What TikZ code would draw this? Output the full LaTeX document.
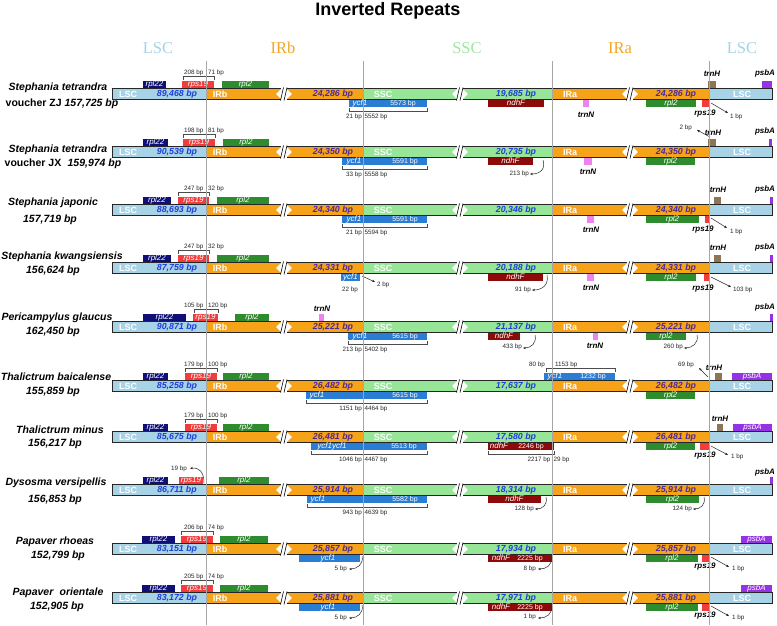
\documentclass[tikz,border=0pt]{standalone}
\usepackage{fontspec}
\setmainfont{Liberation Sans}
\newfontfamily\hdrfont{Liberation Serif}
\usetikzlibrary{arrows.meta}
\definecolor{lscc}{RGB}{168,211,230}
\definecolor{irc}{RGB}{247,163,26}
\definecolor{sscc}{RGB}{151,229,151}
\definecolor{rplc}{RGB}{15,15,120}
\definecolor{rpsc}{RGB}{242,59,59}
\definecolor{rpliic}{RGB}{46,139,46}
\definecolor{ycfc}{RGB}{43,124,211}
\definecolor{ndhc}{RGB}{140,10,10}
\definecolor{trnnc}{RGB}{238,130,238}
\definecolor{trnhc}{RGB}{140,117,88}
\definecolor{psbc}{RGB}{150,50,230}
\definecolor{numblue}{RGB}{31,63,217}
\definecolor{numpurp}{RGB}{75,42,155}
\definecolor{hdrlsc}{RGB}{168,211,230}
\definecolor{hdrir}{RGB}{245,166,35}
\definecolor{hdrssc}{RGB}{160,230,160}
\tikzset{
 seglab/.style={text=white, font=\bfseries\fontsize{9}{10}\selectfont, inner sep=0pt, text height=6.5pt, text depth=0pt},
 numb/.style={font=\bfseries\itshape\fontsize{8.8}{10}\selectfont, inner sep=0pt, text height=6.3pt, text depth=1.8pt},
 gname/.style={text=white, font=\itshape\fontsize{8}{9}\selectfont, inner sep=0pt, text height=5.8pt, text depth=1.6pt},
 gbp/.style={text=white, font=\fontsize{7}{8}\selectfont, inner sep=0pt, text height=5pt, text depth=1.4pt},
 glab/.style={font=\bfseries\itshape\fontsize{8}{9}\selectfont, inner sep=0pt, text height=5.8pt, text depth=1.6pt},
 bp/.style={font=\fontsize{6.3}{7}\selectfont, text=black!85, inner sep=0pt},
 brk/.style={draw=black!70, line width=0.5pt},
 arr/.style={draw=black!85, line width=0.5pt, -{Stealth[length=3pt,width=2.4pt]}},
 spec/.style={font=\bfseries\itshape\fontsize{10.5}{12}\selectfont, inner sep=0pt},
 hdr/.style={font=\hdrfont\fontsize{16.5}{18}\selectfont, inner sep=0pt},
 barline/.style={draw=black!85, line width=0.7pt},
 vline/.style={draw=black!35, line width=1pt},
}
% chromosome bar: four region sizes
\newcommand\chrbar[4]{%
 \fill[lscc] (112,-5.5) rectangle (206,5.5);
 \fill[irc] (206,-5.5) rectangle (281,5.5);
 \fill[irc] (287,-5.5) rectangle (363,5.5);
 \fill[sscc] (363,-5.5) rectangle (457,5.5);
 \fill[sscc] (463,-5.5) rectangle (552,5.5);
 \fill[irc] (552,-5.5) rectangle (627,5.5);
 \fill[irc] (633,-5.5) rectangle (709,5.5);
 \fill[lscc] (709,-5.5) rectangle (772,5.5);
 \draw[barline] (281,-5.5) -- (112,-5.5) -- (112,5.5) -- (281,5.5);
 \draw[barline] (287,-5.5) -- (457,-5.5) (287,5.5) -- (457,5.5);
 \draw[barline] (463,-5.5) -- (627,-5.5) (463,5.5) -- (627,5.5);
 \draw[barline] (633,-5.5) -- (772,-5.5) -- (772,5.5) -- (633,5.5);
 \foreach \a/\b in {281/287,457/463,627/633}{
   \fill[white] (\a+0.4,-5.1) -- (\a-5,0) -- (\a+0.4,5.1) -- cycle;
   \fill[white] (\b-0.4,-5.1) -- (\b+5,0) -- (\b-0.4,5.1) -- cycle;
   \draw[black, line width=0.6pt] (\a-0.5,6.5) -- (\a+2.5,-6.5) (\a+3,6.5) -- (\a+6,-6.5);
 }
 \node[seglab] at (128,0) {LSC};
 \node[seglab] at (220,0) {IRb};
 \node[seglab] at (383,0) {SSC};
 \node[seglab] at (570,0) {IRa};
 \node[seglab] at (742,0) {LSC};
 \node[numb, text=numblue] at (177,0) {#1};
 \node[numb, text=numpurp] at (333,0) {#2};
 \node[numb, text=numblue] at (516,0) {#3};
 \node[numb, text=numpurp] at (676,0) {#4};
}
% top / bottom gene boxes
\newcommand\tbx[3]{\fill[#3] (#1,-13.5) rectangle (#2,-6);}
\newcommand\bbx[3]{\fill[#3] (#1,5.5) rectangle (#2,13);}
\newcommand\tb[4]{\tbx{#1}{#2}{#3}\node[gname] at ({(#1+#2)/2},-9.75) {#4};}
\newcommand\bb[4]{\bbx{#1}{#2}{#3}\node[gname] at ({(#1+#2)/2},9.25) {#4};}
% brackets: x1 x2 xmid xeast xwest leftlabel rightlabel
\newcommand\tbr[7]{%
 \draw[brk] (#1,-14) -- (#1,-18) -- (#2,-18) -- (#2,-14);
 \draw[brk] (#3,-16) -- (#3,-20);
 \node[bp, anchor=base east] at (#4,-19.3) {#6};
 \node[bp, anchor=base west] at (#5,-19.3) {#7};
}
\newcommand\bbr[7]{%
 \draw[brk] (#1,13.5) -- (#1,17.5) -- (#2,17.5) -- (#2,13.5);
 \draw[brk] (#3,15.5) -- (#3,19.5);
 \node[bp, anchor=north east] at (#4,19.5) {#6};
 \node[bp, anchor=north west] at (#5,19.5) {#7};
}
\begin{document}
\begin{tikzpicture}[x=1pt,y=-1pt]
\useasboundingbox (0,0) rectangle (777,625);
\fill[white] (0,0) rectangle (777,625);
\node[font=\bfseries\fontsize{18}{20}\selectfont, anchor=base] (title) at (388,15) {Inverted Repeats};
\node[hdr, text=hdrlsc] (h1) at (158,48) {LSC};
\node[hdr, text=hdrir] (h2) at (283,48) {IRb};
\node[hdr, text=hdrssc] (h3) at (467,48) {SSC};
\node[hdr, text=hdrir] (h4) at (620,48) {IRa};
\node[hdr, text=hdrlsc] (h5) at (742,48) {LSC};

% species labels
\node[spec] (s1a) at (58,88) {Stephania tetrandra};
\node[spec] (s1b) at (62,104) {{\upshape voucher ZJ} 157,725 bp};
\node[spec] (s2a) at (58,150) {Stephania tetrandra};
\node[spec] (s2b) at (63,164) {{\upshape voucher JX}\hspace{0.6em}159,974 bp};
\node[spec] (s3a) at (53,203) {Stephania japonic};
\node[spec] (s3b) at (50,220) {157,719 bp};
\node[spec] (s4a) at (62,257) {Stephania kwangsiensis};
\node[spec] (s4b) at (53,271) {156,624 bp};
\node[spec] (s5a) at (57,318) {Pericampylus glaucus};
\node[spec] (s5b) at (53,332) {162,450 bp};
\node[spec] (s6a) at (56,377) {Thalictrum baicalense};
\node[spec] (s6b) at (53,392) {155,859 bp};
\node[spec] (s7a) at (60,430) {Thalictrum minus};
\node[spec] (s7b) at (55,444) {156,217 bp};
\node[spec] (s8a) at (56,483) {Dysosma versipellis};
\node[spec] (s8b) at (55,500) {156,853 bp};
\node[spec] (s9a) at (55,542) {Papaver rhoeas};
\node[spec] (s9b) at (58,556) {152,799 bp};
\node[spec] (s10a) at (58,593) {Papaver\hspace{0.6em}orientale};
\node[spec] (s10b) at (57,607) {152,905 bp};

% ---------- row 1
\begin{scope}[yshift=-94pt]
 \chrbar{89,468 bp}{24,286 bp}{19,685 bp}{24,286 bp}
 \tb{143}{166}{rplc}{rpl22}
 \tb{182}{214}{rpsc}{rps19}
 \tb{222}{269}{rpliic}{rpl2}
 \tbr{183}{214}{206}{203.5}{208}{208 bp}{71 bp}
 \bbx{349}{427}{ycfc}
 \node[gname] at (360,9.25) {ycf1};
 \node[gbp] at (403,9.25) {5573 bp};
 \bbr{349}{427}{363}{362}{364.5}{21 bp}{5552 bp}
 \bb{488}{544}{ndhc}{ndhF}
 \bbx{583}{589}{trnnc}
 \node[glab] at (586,21) {trnN};
 \bb{646}{696}{rpliic}{rpl2}
 \bbx{702}{709}{rpsc}
 \node[glab] (r1rps) at (705,19) {rps19};
 \coordinate (r1a) at (711,9); \coordinate (r1b) at (728,19);
 \draw[arr] (r1a) -- (r1b);
 \node[bp, anchor=west] at (730,23) {1 bp};
 \tbx{708}{716}{trnhc}
 \node[glab] at (712,-20) {trnH};
 \tbx{762}{772}{psbc}
 \node[glab] at (765,-21) {psbA};
\end{scope}

% ---------- row 2
\begin{scope}[yshift=-152pt]
 \chrbar{90,539 bp}{24,350 bp}{20,735 bp}{24,350 bp}
 \tb{143}{168}{rplc}{rpl22}
 \tb{183}{215}{rpsc}{rps19}
 \tb{223}{269}{rpliic}{rpl2}
 \tbr{183}{215}{206}{203.5}{208}{198 bp}{81 bp}
 \bbx{342}{427}{ycfc}
 \node[gname] at (354,9.25) {ycf1};
 \node[gbp] at (405,9.25) {5591 bp};
 \bbr{342}{427}{363}{362}{364.5}{33 bp}{5558 bp}
 \bb{488}{533}{ndhc}{ndhF}
 \draw[arr] (543,8) .. controls (546,17) and (540,22) .. (530,22);
 \node[bp, anchor=east] at (529,22) {213 bp};
 \bbx{584}{592}{trnnc}
 \node[glab] at (588,20) {trnN};
 \bb{646}{695}{rpliic}{rpl2}
 \tbx{708}{716}{trnhc}
 \node[glab] at (713,-19) {trnH};
 \draw[arr] (710,-15) -- (697,-22);
 \node[bp, anchor=east] at (692,-24) {2 bp};
 \tbx{769}{772}{psbc}
 \node[glab] at (765,-21) {psbA};
\end{scope}

% ---------- row 3
\begin{scope}[yshift=-210pt]
 \chrbar{88,693 bp}{24,340 bp}{20,346 bp}{24,340 bp}
 \tb{143}{171}{rplc}{rpl22}
 \tb{178}{209}{rpsc}{rps19}
 \tb{217}{269}{rpliic}{rpl2}
 \tbr{178}{209}{206}{203.5}{208}{247 bp}{32 bp}
 \bbx{342}{427}{ycfc}
 \node[gname] at (354,9.25) {ycf1};
 \node[gbp] at (405,9.25) {5591 bp};
 \bbr{342}{427}{363}{362}{364.5}{21 bp}{5594 bp}
 \bbx{587}{594}{trnnc}
 \node[glab] at (591,20) {trnN};
 \bb{646}{699}{rpliic}{rpl2}
 \bbx{705}{709}{rpsc}
 \node[glab] at (703,19) {rps19};
 \draw[arr] (711,8) -- (727,18);
 \node[bp, anchor=west] at (730,22) {1 bp};
 \tbx{714}{721}{trnhc}
 \node[glab] at (718,-20) {trnH};
 \tbx{770}{773}{psbc}
 \node[glab] at (765,-21) {psbA};
\end{scope}

% ---------- row 4
\begin{scope}[yshift=-268pt]
 \chrbar{87,759 bp}{24,331 bp}{20,188 bp}{24,331 bp}
 \tb{143}{171}{rplc}{rpl22}
 \tb{178}{209}{rpsc}{rps19}
 \tb{217}{269}{rpliic}{rpl2}
 \tbr{178}{209}{206}{203.5}{208}{247 bp}{32 bp}
 \bb{341}{360}{ycfc}{ycf1}
 \draw[arr] (362,8) -- (375,14);
 \node[bp, anchor=west] at (377,17) {2 bp};
 \node[bp] at (350,22) {22 bp};
 \bb{488}{543}{ndhc}{ndhF}
 \draw[arr] (547,7) .. controls (549,17) and (542,22) .. (532,22);
 \node[bp, anchor=east] at (531,22) {91 bp};
 \bbx{587}{594}{trnnc}
 \node[glab] at (591,20) {trnN};
 \bb{646}{696}{rpliic}{rpl2}
 \bbx{704}{709}{rpsc}
 \node[glab] at (703,20) {rps19};
 \draw[arr] (711,9) -- (731,19);
 \node[bp, anchor=west] at (733,22) {103 bp};
 \tbx{714}{721}{trnhc}
 \node[glab] at (718,-20) {trnH};
 \tbx{770}{773}{psbc}
 \node[glab] at (765,-21) {psbA};
\end{scope}

% ---------- row 5
\begin{scope}[yshift=-327pt]
 \chrbar{90,871 bp}{25,221 bp}{21,137 bp}{25,221 bp}
 \tb{143}{186}{rplc}{rpl22}
 \tb{193}{218}{rpsc}{rps19}
 \tb{235}{269}{rpliic}{rpl2}
 \tbr{194}{218}{206}{203.5}{208}{105 bp}{120 bp}
 \tbx{319}{324}{trnnc}
 \node[glab] at (322,-18) {trnN};
 \bbx{348}{427}{ycfc}
 \node[gname] at (360,9.25) {ycf1};
 \node[gbp] at (405,9.25) {5615 bp};
 \bbr{348}{427}{363}{362}{364.5}{213 bp}{5402 bp}
 \bb{488}{520}{ndhc}{ndhF}
 \draw[arr] (535,8) .. controls (537,16) and (531,21) .. (523,21);
 \node[bp, anchor=east] at (522,20) {433 bp};
 \bbx{593}{598}{trnnc}
 \node[glab] at (595,19) {trnN};
 \bb{646}{686}{rpliic}{rpl2}
 \draw[arr] (697,8) .. controls (699,16) and (692,21) .. (684,21);
 \node[bp, anchor=east] at (683,20) {260 bp};
 \tbx{770}{773}{psbc}
 \node[glab] at (765,-20) {psbA};
\end{scope}

% ---------- row 6
\begin{scope}[yshift=-386pt]
 \chrbar{85,258 bp}{26,482 bp}{17,637 bp}{26,482 bp}
 \tb{143}{168}{rplc}{rpl22}
 \tb{185}{217}{rpsc}{rps19}
 \tb{223}{269}{rpliic}{rpl2}
 \tbr{185}{217}{206}{203.5}{208}{179 bp}{100 bp}
 \bbx{306}{427}{ycfc}
 \node[gname] at (317,9.25) {ycf1};
 \node[gbp] at (405,9.25) {5615 bp};
 \bbr{306}{427}{363}{362}{364.5}{1151 bp}{4464 bp}
 \tbx{544}{615}{ycfc}
 \node[gname] at (555,-9.75) {ycf1};
 \node[gbp] at (593,-9.75) {1232 bp};
 \tbr{546}{615}{552}{545}{555}{80 bp}{1153 bp}
 \bb{646}{695}{rpliic}{rpl2}
 \tbx{715}{722}{trnhc}
 \node[glab] at (714,-18) {trnH};
 \draw[arr] (708,-9) -- (699,-18);
 \node[bp, anchor=east] at (694,-21) {69 bp};
 \tb{732}{772}{psbc}{psbA}
\end{scope}

% ---------- row 7
\begin{scope}[yshift=-437pt]
 \chrbar{85,675 bp}{26,481 bp}{17,580 bp}{26,481 bp}
 \tb{143}{168}{rplc}{rpl22}
 \tb{185}{217}{rpsc}{rps19}
 \tb{223}{269}{rpliic}{rpl2}
 \tbr{185}{217}{206}{203.5}{208}{179 bp}{100 bp}
 \bbx{311}{427}{ycfc}
 \node[gname] at (332,9.25) {ycf1ycf1};
 \node[gbp] at (404,9.25) {5513 bp};
 \bbr{311}{427}{363}{362}{364.5}{1046 bp}{4467 bp}
 \bbx{488}{554}{ndhc}
 \node[gname] at (499,9.25) {ndhF};
 \node[gbp] at (531,9.25) {2246 bp};
 \bbr{488}{554}{552}{550.5}{553.5}{2217 bp}{29 bp}
 \bb{646}{695}{rpliic}{rpl2}
 \bbx{700}{709}{rpsc}
 \node[glab] at (705,18) {rps19};
 \draw[arr] (711,9) -- (728,18);
 \node[bp, anchor=west] at (731,20) {1 bp};
 \tbx{717}{723}{trnhc}
 \node[glab] at (720,-18) {trnH};
 \tb{733}{772}{psbc}{psbA}
\end{scope}

% ---------- row 8
\begin{scope}[yshift=-490pt]
 \chrbar{86,711 bp}{25,914 bp}{18,314 bp}{25,914 bp}
 \tb{143}{168}{rplc}{rpl22}
 \tb{179}{203}{rpsc}{rps19}
 \tb{219}{269}{rpliic}{rpl2}
 \draw[arr] (204,-7) .. controls (204,-18) and (199,-23) .. (190,-21.5);
 \node[bp, anchor=east] at (187,-21) {19 bp};
 \bbx{307}{427}{ycfc}
 \node[gname] at (318,9.25) {ycf1};
 \node[gbp] at (405,9.25) {5582 bp};
 \bbr{307}{427}{363}{362}{364.5}{943 bp}{4639 bp}
 \bb{488}{541}{ndhc}{ndhF}
 \draw[arr] (546,7) .. controls (548,15) and (542,19) .. (535,19);
 \node[bp, anchor=east] at (534,19) {128 bp};
 \bb{646}{699}{rpliic}{rpl2}
 \draw[arr] (704,7) .. controls (706,15) and (700,19) .. (693,19);
 \node[bp, anchor=east] at (692,19) {124 bp};
 \tbx{770}{773}{psbc}
 \node[glab] at (765,-18) {psbA};
\end{scope}

% ---------- row 9
\begin{scope}[yshift=-549pt]
 \chrbar{83,151 bp}{25,857 bp}{17,934 bp}{25,857 bp}
 \tb{142}{175}{rplc}{rpl22}
 \tb{181}{213}{rpsc}{rps19}
 \tb{220}{268}{rpliic}{rpl2}
 \tbr{181}{213}{206}{203.5}{208}{206 bp}{74 bp}
 \bbx{299}{360}{ycfc}
 \node[gname] at (328,9.25) {ycf1};
 \draw[arr] (362,7) .. controls (364,15) and (357,20) .. (349,20);
 \node[bp, anchor=east] at (347,20) {5 bp};
 \bbx{488}{552}{ndhc}
 \node[gname] at (501,9.25) {ndhF};
 \node[gbp] at (530,9.25) {2225 bp};
 \draw[arr] (551,8) .. controls (553,16) and (546,20) .. (538,20);
 \node[bp, anchor=east] at (536,20) {8 bp};
 \bb{646}{698}{rpliic}{rpl2}
 \bbx{702}{709}{rpsc}
 \node[glab] at (705,17) {rps19};
 \draw[arr] (711,8) -- (729,18);
 \node[bp, anchor=west] at (732,20) {1 bp};
 \tb{741}{772}{psbc}{psbA}
\end{scope}

% ---------- row 10
\begin{scope}[yshift=-598pt]
 \chrbar{83,172 bp}{25,881 bp}{17,971 bp}{25,881 bp}
 \tb{142}{175}{rplc}{rpl22}
 \tb{181}{213}{rpsc}{rps19}
 \tb{220}{268}{rpliic}{rpl2}
 \tbr{181}{213}{206}{203.5}{208}{205 bp}{74 bp}
 \bbx{299}{360}{ycfc}
 \node[gname] at (328,9.25) {ycf1};
 \draw[arr] (362,7) .. controls (364,15) and (357,20) .. (349,20);
 \node[bp, anchor=east] at (347,20) {5 bp};
 \bbx{488}{552}{ndhc}
 \node[gname] at (501,9.25) {ndhF};
 \node[gbp] at (530,9.25) {2225 bp};
 \draw[arr] (551,8) .. controls (553,16) and (546,20) .. (538,20);
 \node[bp, anchor=east] at (536,19) {1 bp};
 \bb{646}{698}{rpliic}{rpl2}
 \bbx{702}{709}{rpsc}
 \node[glab] at (705,17) {rps19};
 \draw[arr] (711,8) -- (729,18);
 \node[bp, anchor=west] at (732,20) {1 bp};
 \tb{741}{772}{psbc}{psbA}
\end{scope}

% junction lines
\foreach \x in {206,363,552,709}{
  \draw[vline] (\x,61) -- (\x,625);
}
\end{tikzpicture}
\end{document}
